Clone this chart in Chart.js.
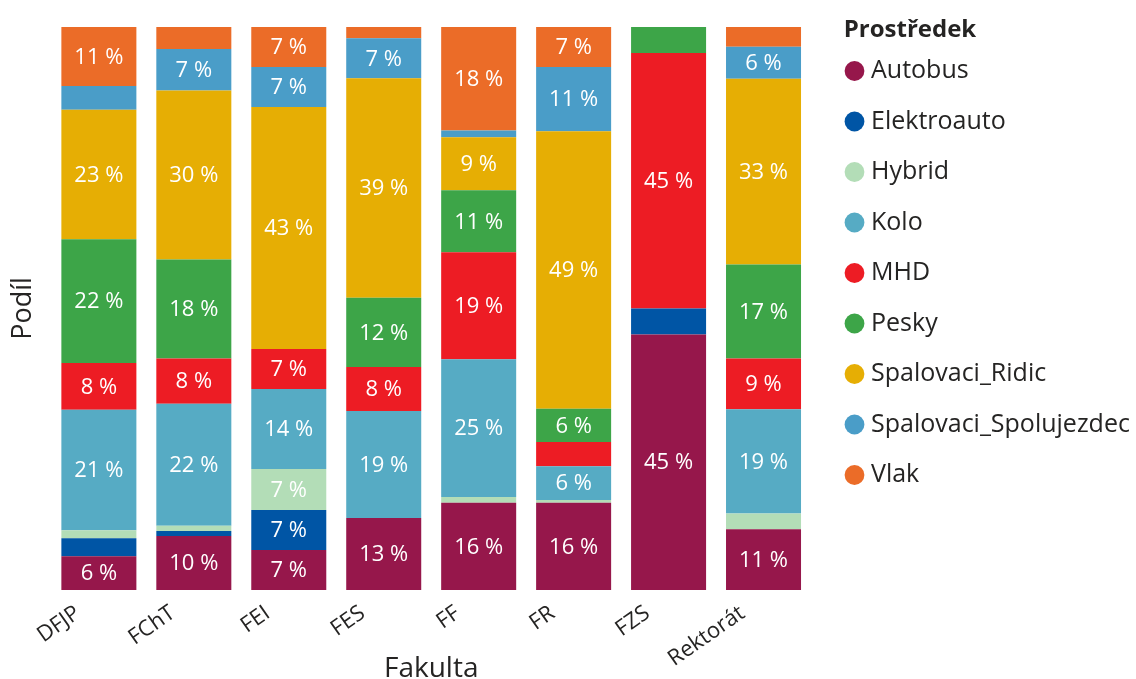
<!DOCTYPE html>
<html>
<head>
<meta charset="utf-8">
<script src="https://cdn.jsdelivr.net/npm/chart.js@4.4.0/dist/chart.umd.min.js"></script>
<style>
  body { margin: 0; background: #ffffff; }
  #wrap { width: 1136px; height: 679px; position: relative; }
</style>
</head>
<body>
<div id="wrap"><canvas id="barChart"></canvas></div>
<script>
// faculties on the x axis
const fakulty = ["DFJP", "FChT", "FEI", "FES", "FF", "FR", "FZS", "Rektorát"];

// share (%) of each transport mode, one value per faculty
const autobus      = [6,    9.6,  7.1,  12.8, 15.5, 15.5, 45.4, 10.8];
const elektroauto  = [3.2,  0.9,  7.1,  0,    0,    0,    4.6,  0];
const hybrid       = [1.4,  0.9,  7.3,  0,    1,    0.5,  0,    2.8];
const kolo         = [21.4, 21.7, 14.2, 19,   24.5, 6,    0,    18.5];
const mhd          = [8.3,  8,    7.1,  7.8,  19,   4.3,  45.4, 9];
const pesky        = [22,   17.6, 0,    12.3, 11,   5.9,  4.6,  16.7];
const spalRidic    = [23,   30,   43,   39,   9.4,  49.3, 0,    33];
const spalSpoluj   = [4.2,  7.4,  7.1,  7.1,  1.2,  11.4, 0,    5.7];
const vlak         = [10.5, 3.9,  7.1,  2,    18.4, 7.1,  0,    3.5];

const textColor = '#252423';
const fontFamily = '"Open Sans", "Noto Sans", sans-serif';

// white percentage labels in the middle of every segment that is large enough
const segmentLabels = {
    id: 'segmentLabels',
    afterDatasetsDraw(chart) {
        const ctx = chart.ctx;
        ctx.save();
        ctx.font = '22px ' + fontFamily;
        ctx.fillStyle = '#ffffff';
        ctx.textAlign = 'center';
        ctx.textBaseline = 'middle';
        chart.data.datasets.forEach((ds, i) => {
            const meta = chart.getDatasetMeta(i);
            if (meta.hidden) return;
            meta.data.forEach((bar, j) => {
                const v = ds.data[j];
                if (v < 5) return;
                const p = bar.getCenterPoint();
                ctx.fillText(Math.round(v) + ' %', p.x, p.y + 1);
            });
        });
        ctx.restore();
    }
};

const data = {
    labels: fakulty,
    datasets: [
        { label: 'Autobus', data: autobus, backgroundColor: '#96174B' },
        { label: 'Elektroauto', data: elektroauto, backgroundColor: '#0055A5' },
        { label: 'Hybrid', data: hybrid, backgroundColor: '#B3DDB7' },
        { label: 'Kolo', data: kolo, backgroundColor: '#56ABC4' },
        { label: 'MHD', data: mhd, backgroundColor: '#ED1C24' },
        { label: 'Pesky', data: pesky, backgroundColor: '#3DA548' },
        { label: 'Spalovaci_Ridic', data: spalRidic, backgroundColor: '#E6AE04' },
        { label: 'Spalovaci_Spolujezdec', data: spalSpoluj, backgroundColor: '#4A9DC8' },
        { label: 'Vlak', data: vlak, backgroundColor: '#EB6C28' }
    ]
};

const options = {
    responsive: true,
    maintainAspectRatio: false,
    animation: false,
    datasets: {
        bar: { categoryPercentage: 0.79, barPercentage: 1, borderWidth: 0 }
    },
    layout: { padding: { top: 14, left: 3, right: 0, bottom: 0 } },
    plugins: {
        tooltip: { enabled: false },
        // empty spacer so the bars start a bit lower than the legend title
        title: {
            display: true,
            text: '',
            fullSize: false,
            padding: 0,
            font: { size: 13, lineHeight: 1 }
        },
        legend: {
            position: 'right',
            align: 'start',
            maxWidth: 311,
            title: {
                display: true,
                text: '   Prostředek',
                position: 'start',
                color: textColor,
                font: { family: fontFamily, size: 24, weight: 'bold', lineHeight: 0.5 },
                padding: { top: 4, bottom: 3 }
            },
            labels: {
                usePointStyle: true,
                pointStyle: 'circle',
                boxWidth: 8,
                boxHeight: 14,
                padding: 25.5,
                color: textColor,
                font: { family: fontFamily, size: 25 }
            }
        }
    },
    scales: {
        x: {
            stacked: true,
            grid: { display: false, drawTicks: false },
            border: { display: false },
            ticks: {
                color: textColor,
                font: { family: fontFamily, size: 22, lineHeight: 1 },
                minRotation: 35,
                maxRotation: 35,
                labelOffset: -21,
                padding: 12
            },
            title: {
                display: true,
                text: 'Fakulta',
                color: textColor,
                font: { family: fontFamily, size: 28, lineHeight: 0.7 },
                padding: 0
            },
            afterFit(scale) {
                scale.height = 89;
            }
        },
        y: {
            stacked: true,
            min: 0,
            max: 100,
            grid: { display: false, drawTicks: false },
            border: { display: false },
            ticks: { display: false },
            title: {
                display: true,
                text: 'Podíl',
                color: textColor,
                font: { family: fontFamily, size: 27 },
                padding: { top: 4, bottom: 12 }
            }
        },
        // empty axis on the right, only keeps a gap between the bars and the legend
        gap: {
            type: 'linear',
            position: 'right',
            grid: { display: false, drawTicks: false },
            border: { display: false },
            ticks: { display: false },
            afterFit(scale) {
                scale.width = 14;
            }
        }
    }
};

const config = {
    type: 'bar',
    data: data,
    options: options,
    plugins: [segmentLabels]
};

var ctx = document.getElementById('barChart').getContext('2d');
new Chart(ctx, config);
</script>
</body>
</html>
